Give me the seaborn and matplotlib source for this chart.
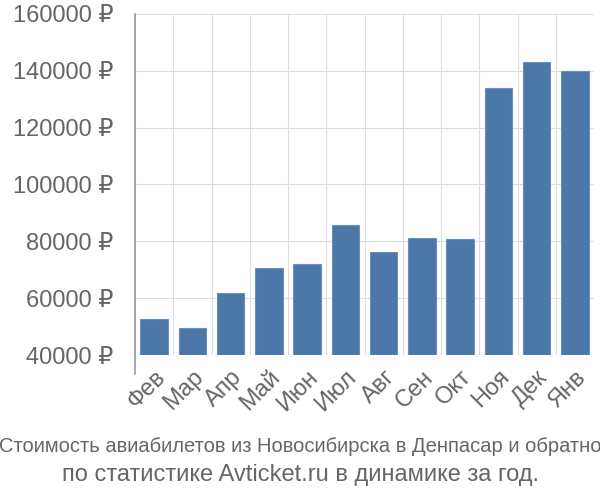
import numpy as np
import pandas as pd
import matplotlib
matplotlib.use("Agg")
import matplotlib.pyplot as plt
import matplotlib.transforms as mtransforms
import seaborn as sns

months = ["Фев", "Мар", "Апр", "Май", "Июн", "Июл", "Авг", "Сен", "Окт", "Ноя", "Дек", "Янв"]
prices = [52700, 49600, 61700, 70600, 72000, 85700, 76200, 81200, 80800, 134100, 143100, 139900]
yticks = [40000, 60000, 80000, 100000, 120000, 140000, 160000]
ytick_labels = [f"{v} ₽" for v in yticks]
caption1 = "Стоимость авиабилетов из Новосибирска в Денпасар и обратно"
caption2 = "по статистике Avticket.ru в динамике за год."

sns.set_style("white")
plt.rcParams["font.family"] = ["Liberation Sans", "DejaVu Sans"]

df = pd.DataFrame({"month": months, "price": prices})

fig = plt.figure(figsize=(6, 5), dpi=100)
ax = fig.add_axes([135/600, 1-355/500, (594-135)/600, (355-14)/500])

GRID = "#dddddd"
TXT = "#666666"

sns.barplot(data=df, x="month", y="price", color="#4c78a8", saturation=1,
            width=0.72, edgecolor="#6a8fba", linewidth=0.8, ax=ax, zorder=3)

ax.set_xlim(-0.5, len(months) - 0.5)
ax.set_ylim(40000, 160000)
ax.set_yticks(yticks)
ax.set_yticklabels(ytick_labels, fontsize=17, color=TXT)
ax.tick_params(axis="y", which="major", length=14.4, width=0.8, color=GRID, pad=1)

ax.set_xticks(np.arange(len(months)))
ax.set_xticklabels(months, fontsize=17, color=TXT, rotation=45, ha="right",
                   va="top", rotation_mode="anchor")
ax.tick_params(axis="x", which="major", length=0, pad=8)
ax.set_xticks(np.arange(-0.5, len(months), 1), minor=True)
ax.tick_params(axis="x", which="minor", length=13.5, width=0.8, color=GRID)

ax.grid(axis="y", which="major", color=GRID, linewidth=0.8, zorder=0)
ax.grid(axis="x", which="minor", color=GRID, linewidth=0.8, zorder=0)
ax.set_axisbelow(True)

for s in ["top", "right", "bottom"]:
    ax.spines[s].set_visible(False)
ax.spines["left"].set_color("#999999")
ax.spines["left"].set_linewidth(1.2)
ax.spines["left"].set_bounds(40000, 160000)
trans = mtransforms.blended_transform_factory(ax.transData, ax.transAxes)
ax.plot([-0.5, -0.5], [0, -19/341], transform=trans, color="#999999",
        linewidth=1.2, clip_on=False, zorder=4)

ax.set_xlabel("")
ax.set_ylabel("")

fig.text(0.5, 1-447/500, caption1, ha="center", va="center", fontsize=14.5, color=TXT,
         family=["Liberation Sans Narrow", "Liberation Sans", "DejaVu Sans"])
fig.text(0.5, 1-475/500, caption2, ha="center", va="center", fontsize=17, color=TXT)

fig.savefig("out.png", dpi=100)
